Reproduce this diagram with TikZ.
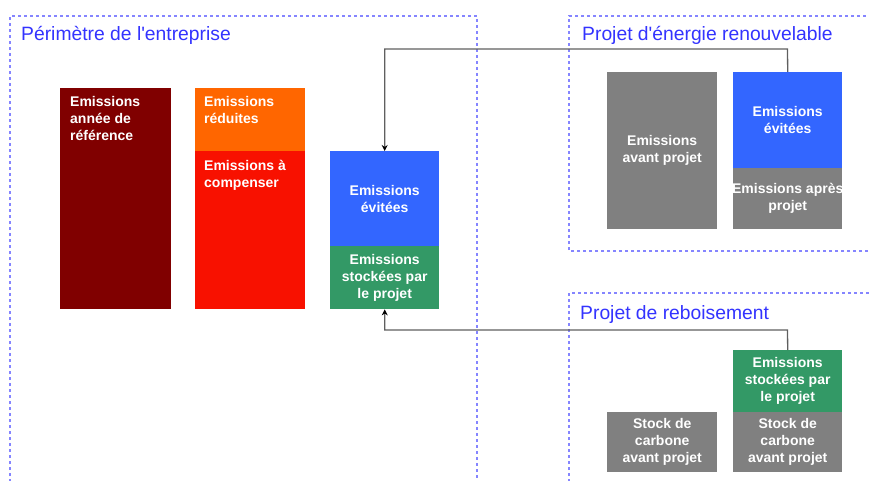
\documentclass[tikz,border=0pt]{standalone}
\usepackage{fontspec}
\setmainfont{Liberation Sans}
\usetikzlibrary{arrows.meta}
\definecolor{dred}{HTML}{800000}
\definecolor{orng}{HTML}{FF6600}
\definecolor{rred}{HTML}{F81100}
\definecolor{bblue}{HTML}{3366FF}
\definecolor{ggreen}{HTML}{339966}
\definecolor{ggray}{HTML}{808080}
\definecolor{frame}{HTML}{8585FF}
\definecolor{ttl}{HTML}{3333FF}
\definecolor{conn}{HTML}{5F5F5F}
\tikzset{
  box/.style={draw=none, inner sep=0pt, anchor=north west, text=white,
    font=\bfseries\fontsize{14}{17}\selectfont, align=center},
  lbl/.style={inner sep=0pt, anchor=north west, text=white,
    font=\bfseries\fontsize{14}{17}\selectfont, align=left},
  zone/.style={draw=frame, line width=1.4pt, dash pattern=on 3pt off 3pt},
  zonetitle/.style={inner sep=0pt, anchor=base west, text=ttl,
    font=\fontsize{19.3}{21}\selectfont},
  link/.style={draw=conn, line width=1.3pt},
  linkarrow/.style={link, -{Stealth[length=6pt,width=6pt,black]}}
}
\begin{document}
\begin{tikzpicture}[x=1pt,y=-1pt]
\useasboundingbox (0,0) rectangle (869,481);
% zones
\draw[zone] (10,500) -- (10,16) -- (477,16) -- (477,500);
\draw[zone] (880,251) -- (569,251) -- (569,16) -- (880,16);
\draw[zone] (569,500) -- (569,293) -- (880,293);
\node[zonetitle] (t1) at (21,41) {Périmètre de l\textquotesingle entreprise};
\node[zonetitle] (t2) at (582,41) {Projet d\textquotesingle énergie renouvelable};
\node[zonetitle] (t3) at (580,319) {Projet de reboisement};
% left boxes
\node[box, fill=dred, minimum width=111pt, minimum height=221pt] (ref) at (60,88) {};
\node[lbl] (refl) at (70,96) {Emissions\\année de\\référence};
\node[box, fill=orng, minimum width=110pt, minimum height=63pt] (red) at (195,88) {};
\node[lbl] (redl) at (204,96) {Emissions\\réduites};
\node[box, fill=rred, minimum width=110pt, minimum height=158pt] (comp) at (195,151) {};
\node[lbl] (compl) at (204,160) {Emissions à\\compenser};
% middle boxes
\node[box, fill=bblue, minimum width=109pt, minimum height=95pt] (mb) at (330,151) {Emissions\\évitées};
\node[box, fill=ggreen, minimum width=109pt, minimum height=63pt] (mg) at (330,246) {Emissions\\stockées par\\le projet};
% renewable project
\node[box, fill=ggray, minimum width=110pt, minimum height=157pt] (eav) at (607,72) {Emissions\\avant projet};
\node[box, fill=bblue, minimum width=109pt, minimum height=96pt] (eb) at (733,72) {Emissions\\évitées};
\node[box, fill=ggray, minimum width=109pt, minimum height=61pt] (eap) at (733,168) {};
\node[lbl, anchor=center, align=center] (eapl) at (eap.center) {Emissions après\\projet};
% reforestation project
\node[box, fill=ggreen, minimum width=109pt, minimum height=62pt] (sg) at (733,350) {Emissions\\stockées par\\le projet};
\node[box, fill=ggray, minimum width=109pt, minimum height=60pt] (sc2) at (733,412) {Stock de\\carbone\\avant projet};
\node[box, fill=ggray, minimum width=110pt, minimum height=60pt] (sc1) at (607,412) {Stock de\\carbone\\avant projet};
% connectors
\coordinate (c1) at (787.5,49);
\coordinate (c2) at (787.5,330);
\draw[linkarrow] (eb.north) -- (c1) -| (mb.north);
\draw[linkarrow] (sg.north) -- (c2) -| (mg.south);
\end{tikzpicture}
\end{document}
